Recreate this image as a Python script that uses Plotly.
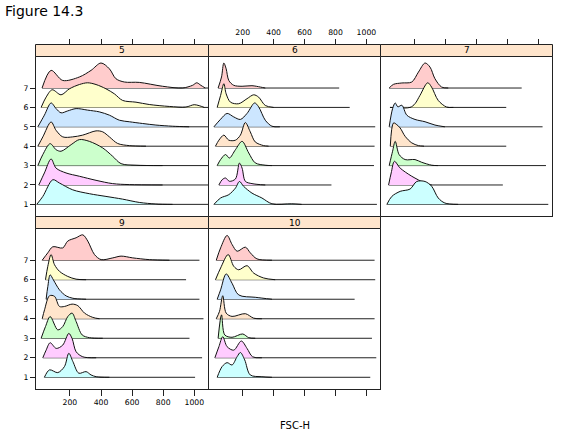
import plotly.graph_objects as go

W, H = 579, 445

# ---------------- data (FSC-H values, density heights in row units) ----------------
GROUPS = [1, 2, 3, 4, 5, 6, 7]
GROUP_COLORS = ["#CCFFFF", "#FFCCFF", "#CCFFCC", "#FFE5CC", "#CCE6FF", "#FFFFCC", "#FFCCCC"]
PANEL_NAMES = ["5", "6", "7", "9", "10"]
X_TICKS = [200, 400, 600, 800, 1000]
X_TICK_TEXT = ["200", "400", "600", "800", "1000"]
Y_TICK_TEXT = ["1", "2", "3", "4", "5", "6", "7"]
X_LABEL = "FSC-H"
TITLE = "Figure 14.3"

# Panel 5
P5_G1_X = [-13, 26, 90, 133, 218, 325, 432, 539, 646, 753, 860]
P5_G1_H = [0, .41, 1.27, 1.10, .75, .55, .41, .27, .10, .02, 0]
P5_G2_X = [0, 36, 79, 111, 175, 261, 368, 475, 582, 796]
P5_G2_H = [0, .62, 1.34, .87, .62, .45, .24, .07, .02, 0]
P5_G3_X = [-6, 26, 73, 111, 143, 208, 261, 325, 411, 475, 529, 625, 796]
P5_G3_H = [0, .57, 1.13, .82, .74, 1.08, 1.34, 1.25, .91, .48, .10, .02, 0]
P5_G4_X = [-6, 26, 79, 111, 154, 218, 282, 368, 411, 454, 507, 582, 689]
P5_G4_H = [0, .48, 1.25, .82, .48, .48, .57, .79, .74, .48, .14, .03, 0]
P5_G5_X = [-6, 36, 79, 111, 143, 186, 240, 314, 389, 454, 518, 582, 668, 753, 860, 967]
P5_G5_H = [0, .60, 1.23, .94, .72, .82, .94, .86, .77, .60, .34, .26, .17, .09, .03, 0]
P5_G6_X = [15, 47, 86, 143, 197, 261, 314, 368, 432, 486, 539, 625, 710, 839, 946, 999, 1031, 1064]
P5_G6_H = [0, .53, .91, .65, .96, 1.18, 1.27, 1.18, .96, .70, .36, .27, .15, .05, .02, .14, .09, 0]
P5_G7_X = [21, 79, 154, 261, 336, 400, 454, 496, 550, 646, 796, 924, 989, 1016, 1042, 1070]
P5_G7_H = [0, .91, .39, .57, .91, 1.29, .99, .48, .31, .29, .09, 0, .14, .27, .14, 0]
P5_END = [1090, 1090, 1090, 1090, 1090, 1090, 1090]

# Panel 6
P6_G1_X = [14, 57, 110, 153, 179, 206, 260, 324, 389, 517, 581]
P6_G1_H = [0, .33, .50, .84, 1.18, .93, .58, .33, .03, .03, 0]
P6_G2_X = [46, 67, 89, 114, 153, 179, 196, 217, 260, 346]
P6_G2_H = [0, .27, .36, .19, .31, 1.13, .87, .19, .07, 0]
P6_G3_X = [35, 57, 89, 114, 153, 196, 239, 281, 346, 389]
P6_G3_H = [0, .31, .57, .39, .82, 1.25, .65, .14, .02, 0]
P6_G4_X = [24, 46, 78, 110, 153, 185, 217, 249, 281, 335, 367]
P6_G4_H = [0, .31, .57, .31, .31, .57, 1.22, .74, .22, .03, 0]
P6_G5_X = [14, 57, 99, 142, 185, 228, 277, 303, 346, 389, 440]
P6_G5_H = [0, .39, .69, .51, .38, .69, 1.23, 1.03, .34, .03, 0]
P6_G6_X = [35, 57, 78, 93, 121, 174, 228, 271, 303, 346, 400]
P6_G6_H = [0, .62, 1.22, .70, .27, .19, .45, .65, .53, .10, 0]
P6_G7_X = [41, 63, 78, 93, 110, 142, 196, 260, 314, 346]
P6_G7_H = [0, .57, 1.29, .99, .39, .14, .09, .12, .05, 0]
P6_END = [1068, 774, 1049, 1053, 1057, 892, 824]

# Panel 7
P7_G1_X = [20, 52, 106, 170, 213, 267, 310, 352, 395, 481]
P7_G1_H = [0, .41, .67, .79, 1.18, 1.18, .93, .33, .07, 0]
P7_G2_X = [31, 48, 69, 106, 181, 267, 310]
P7_G2_H = [0, .62, 1.22, .87, .45, .10, 0]
P7_G3_X = [35, 57, 74, 99, 138, 202, 245, 310, 350]
P7_G3_H = [0, .74, 1.25, .57, .31, .31, .17, .02, 0]
P7_G4_X = [42, 63, 84, 106, 138, 181, 224, 260]
P7_G4_H = [0, 1.20, 1.11, .94, .51, .17, .03, 0]
P7_G5_X = [35, 57, 74, 91, 117, 149, 202, 267, 331, 395]
P7_G5_H = [0, .94, 1.23, 1.03, 1.11, .60, .38, .26, .09, 0]
P7_G6_X = [40, 170, 202, 234, 284, 309, 352, 406, 450]
P7_G6_H = [0, 0, .19, .62, 1.27, 1.05, .36, .02, 0]
P7_G7_X = [35, 63, 117, 181, 224, 267, 299, 331, 374, 417]
P7_G7_H = [0, .19, .26, .31, .82, 1.29, 1.08, .48, .05, 0]
P7_END = [1064, 770, 1049, 792, 1027, 792, 892]

# Panel 9
P9_G1_X = [36, 69, 122, 165, 193, 219, 257, 304, 336, 369, 454]
P9_G1_H = [0, .38, .24, .55, 1.23, .81, .21, .29, .12, .03, 0]
P9_G2_X = [26, 47, 73, 112, 154, 193, 214, 240, 283, 369]
P9_G2_H = [0, .39, .77, .48, .65, 1.25, .99, .31, .05, 0]
P9_G3_X = [15, 43, 73, 122, 154, 186, 214, 240, 279, 326, 411]
P9_G3_H = [0, .60, 1.11, .43, .60, 1.11, 1.29, .86, .17, .03, 0]
P9_G4_X = [22, 37, 69, 101, 133, 165, 214, 251, 294, 347, 390]
P9_G4_H = [0, .46, 1.18, 1.15, .63, .63, .75, .67, .29, .07, 0]
P9_G5_X = [47, 58, 73, 94, 133, 176, 219, 304]
P9_G5_H = [0, .65, 1.25, .99, .48, .17, .05, 0]
P9_G6_X = [43, 58, 79, 101, 133, 186, 240, 304]
P9_G6_H = [0, .69, 1.29, .77, .43, .17, .03, 0]
P9_G7_X = [22, 58, 90, 154, 186, 240, 283, 315, 358, 401, 476, 529, 604, 711, 840]
P9_G7_H = [0, .38, .69, .63, .98, 1.15, 1.30, .98, .29, .03, .12, .21, .12, .03, 0]
P9_END = [1005, 1050, 969, 1059, 1033, 947, 1033]

# Panel 10
P10_G1_X = [35, 67, 99, 131, 164, 185, 213, 249, 324, 389]
P10_G1_H = [0, .55, .75, .63, 1.06, 1.27, .89, .12, .03, 0]
P10_G2_X = [20, 46, 71, 99, 142, 191, 228, 264, 324]
P10_G2_H = [0, .57, 1.08, .57, .39, .86, .48, .05, 0]
P10_G3_X = [41, 63, 84, 131, 200, 239, 281]
P10_G3_H = [0, 1.20, .17, .05, .22, .03, 0]
P10_G4_X = [29, 50, 71, 93, 131, 217, 271, 324]
P10_G4_H = [0, .38, 1.18, .29, .12, .26, .03, 0]
P10_G5_X = [35, 57, 93, 131, 174, 281, 389]
P10_G5_H = [0, .48, 1.30, .82, .22, .10, 0]
P10_G6_X = [24, 57, 106, 142, 174, 228, 271, 335, 410]
P10_G6_H = [0, .60, 1.29, .69, .51, .72, .34, .09, 0]
P10_G7_X = [29, 57, 99, 131, 164, 217, 249, 292, 389]
P10_G7_H = [0, .63, 1.27, .81, .46, .67, .38, .07, 0]
P10_END = [1025, 1064, 1036, 1053, 924, 1057, 1053]

PANEL_CURVES = {
    "5": ([P5_G1_X, P5_G2_X, P5_G3_X, P5_G4_X, P5_G5_X, P5_G6_X, P5_G7_X],
          [P5_G1_H, P5_G2_H, P5_G3_H, P5_G4_H, P5_G5_H, P5_G6_H, P5_G7_H], P5_END),
    "6": ([P6_G1_X, P6_G2_X, P6_G3_X, P6_G4_X, P6_G5_X, P6_G6_X, P6_G7_X],
          [P6_G1_H, P6_G2_H, P6_G3_H, P6_G4_H, P6_G5_H, P6_G6_H, P6_G7_H], P6_END),
    "7": ([P7_G1_X, P7_G2_X, P7_G3_X, P7_G4_X, P7_G5_X, P7_G6_X, P7_G7_X],
          [P7_G1_H, P7_G2_H, P7_G3_H, P7_G4_H, P7_G5_H, P7_G6_H, P7_G7_H], P7_END),
    "9": ([P9_G1_X, P9_G2_X, P9_G3_X, P9_G4_X, P9_G5_X, P9_G6_X, P9_G7_X],
          [P9_G1_H, P9_G2_H, P9_G3_H, P9_G4_H, P9_G5_H, P9_G6_H, P9_G7_H], P9_END),
    "10": ([P10_G1_X, P10_G2_X, P10_G3_X, P10_G4_X, P10_G5_X, P10_G6_X, P10_G7_X],
           [P10_G1_H, P10_G2_H, P10_G3_H, P10_G4_H, P10_G5_H, P10_G6_H, P10_G7_H], P10_END),
}

# ---------------- layout geometry (pixels) ----------------
# domains chosen so adjacent panel borders land on the same pixel
COL_PX = [(36, 208), (209, 380), (381, 552)]
ROW_PX = [(57, 216), (229, 389)]       # panel top/bottom
STRIP_PX = [(44, 56), (216, 228)]
PANEL_POS = [(0, 0), (1, 0), (2, 0), (0, 1), (1, 1)]  # (col,row)
X_RANGE = [-18, 1088]
Y_RANGE = [0.4, 8.6]
FONT = "DejaVu Sans"
BORDER = "#222222"


def px_x(p):
    return p / W


def px_y(p):
    return 1 - p / H


fig = go.Figure()
layout = dict(width=W, height=H, margin=dict(l=0, r=0, t=0, b=0),
              paper_bgcolor="white", plot_bgcolor="white", showlegend=False,
              font=dict(family=FONT, color="black"))
shapes, annotations = [], []

for k, name in enumerate(PANEL_NAMES):
    col, row = PANEL_POS[k]
    idx = k + 1
    sx = "" if idx == 1 else str(idx)
    xa, ya = "x" + sx, "y" + sx
    xs_list, hs_list, ends = PANEL_CURVES[name]
    for gi in reversed(range(len(GROUPS))):
        g = GROUPS[gi]
        xs, hs = xs_list[gi], hs_list[gi]
        fig.add_trace(go.Scatter(x=[xs[0], ends[gi]], y=[g, g], mode="lines",
                                 line=dict(color="#222222", width=1),
                                 xaxis=xa, yaxis=ya, hoverinfo="skip"))
        fig.add_trace(go.Scatter(x=xs, y=[g + h for h in hs], mode="lines",
                                 fill="toself", fillcolor=GROUP_COLORS[gi],
                                 line=dict(color="#111111", width=1, shape="spline", smoothing=0.9),
                                 xaxis=xa, yaxis=ya, hoverinfo="skip"))
    x0, x1 = COL_PX[col]
    yt, yb = ROW_PX[row]
    bottom_row = (row == 1)
    layout["xaxis" + sx] = dict(
        domain=[px_x(x0), px_x(x1)], range=X_RANGE, anchor=ya,
        showline=True, mirror=True, linecolor=BORDER, linewidth=1,
        showgrid=False, zeroline=False,
        tickvals=X_TICKS, ticktext=X_TICK_TEXT,
        ticks="outside" if bottom_row else "", ticklen=6, tickcolor=BORDER,
        showticklabels=bottom_row and col == 0,
        tickfont=dict(size=7.7, family=FONT, color="black"))
    layout["yaxis" + sx] = dict(
        domain=[px_y(yb), px_y(yt)], range=Y_RANGE, anchor=xa,
        showline=True, mirror=True, linecolor=BORDER, linewidth=1,
        showgrid=False, zeroline=False,
        tickvals=GROUPS, ticktext=Y_TICK_TEXT,
        ticks="outside" if col == 0 else "", ticklen=5, tickcolor=BORDER,
        showticklabels=(col == 0),
        tickfont=dict(size=7.7, family=FONT, color="black"))
    # strip
    s0, s1 = STRIP_PX[row]
    shapes.append(dict(type="rect", xref="paper", yref="paper",
                       x0=px_x(x0 - 0.5), x1=px_x(x1 + 0.5), y0=px_y(s1 + 0.5), y1=px_y(s0 + 0.5),
                       fillcolor="#FFE5CC", line=dict(color=BORDER, width=1)))
    annotations.append(dict(text=name, xref="paper", yref="paper",
                            x=px_x((x0 + x1) / 2), y=px_y((s0 + s1) / 2 + 0.5),
                            xanchor="center", yanchor="middle", showarrow=False,
                            font=dict(size=9, family=FONT, color="black")))

# top tick axes above the top-row strips
for c in range(3):
    idx = 6 + c
    base = "x" if c == 0 else "x" + str(c + 1)
    base_y = "y" if c == 0 else "y" + str(c + 1)
    layout["xaxis" + str(idx)] = dict(
        overlaying=base, anchor="free", position=px_y(STRIP_PX[0][0] + 0.5), side="top",
        range=X_RANGE, showline=False, showgrid=False, zeroline=False,
        tickvals=X_TICKS, ticktext=X_TICK_TEXT, ticks="outside", ticklen=6,
        tickcolor=BORDER, showticklabels=(c == 1),
        tickfont=dict(size=7.7, family=FONT, color="black"))
    fig.add_trace(go.Scatter(x=[None], y=[None], xaxis="x" + str(idx), yaxis=base_y,
                             mode="markers", hoverinfo="skip"))

annotations.append(dict(text=TITLE, xref="paper", yref="paper", x=px_x(3), y=px_y(1),
                        xanchor="left", yanchor="top", showarrow=False,
                        font=dict(size=14, family=FONT, color="black")))
annotations.append(dict(text=X_LABEL, xref="paper", yref="paper", x=px_x(295), y=px_y(425),
                        xanchor="center", yanchor="middle", showarrow=False,
                        font=dict(size=10, family=FONT, color="black")))

layout["shapes"] = shapes
layout["annotations"] = annotations
fig.update_layout(**layout)
fig.write_html("out.html")
